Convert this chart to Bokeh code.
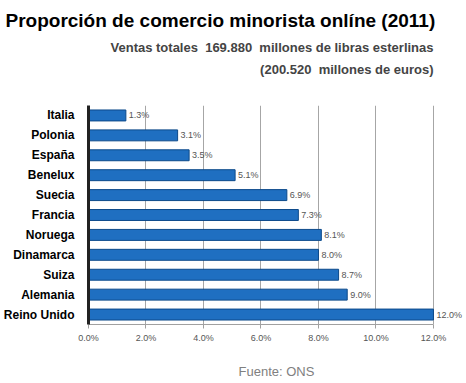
from bokeh.plotting import figure
from bokeh.models import FactorRange, Range1d, Title, ColumnDataSource, FixedTicker, LabelSet, CustomJSTickFormatter
from bokeh.core.properties import value
from bokeh.embed import file_html
from bokeh.resources import INLINE

countries = ["Italia", "Polonia", "España", "Benelux", "Suecia", "Francia",
             "Noruega", "Dinamarca", "Suiza", "Alemania", "Reino Unido"]
shares = [1.3, 3.1, 3.5, 5.1, 6.9, 7.3, 8.1, 8.0, 8.7, 9.0, 12.0]
labels = ["1.3%", "3.1%", "3.5%", "5.1%", "6.9%", "7.3%", "8.1%", "8.0%", "8.7%", "9.0%", "12.0%"]
x_ticks = [0, 2, 4, 6, 8, 10, 12]

src = ColumnDataSource(dict(c=countries, v=shares, l=labels))

p = figure(frame_width=376, frame_height=219, output_backend="svg", toolbar_location=None,
           y_range=FactorRange(factors=list(reversed(countries)), range_padding=0),
           x_range=Range1d(0, 13.08),
           min_border_left=80, min_border_right=0, min_border_top=0, min_border_bottom=0)

p.title.text = "Proporción de comercio minorista onlíne (2011)"
p.title.text_font = "Liberation Sans"
p.title.text_font_size = "19px"
p.title.text_font_style = "bold"
p.title.text_color = "#000000"
p.title.align = "left"
p.title.offset = -83
p.title.standoff = 14

# spacer closest to the frame
p.add_layout(Title(text=" ", text_font_size="1px", standoff=21), "above")
p.add_layout(Title(text="(200.520\u00a0 millones de euros)", align="right", text_font="Liberation Sans",
                   text_font_size="13px", text_font_style="bold", offset=31, standoff=9), "above")
p.add_layout(Title(text="Ventas totales\u00a0 169.880\u00a0 millones de libras esterlinas", align="right",
                   text_font="Liberation Sans", text_font_size="13px", text_font_style="bold",
                   offset=31, standoff=1), "above")

p.add_layout(Title(text=" ", text_font_size="1px", standoff=12), "below")
p.add_layout(Title(text="Fuente: ONS", align="center", text_font="Liberation Sans",
                   text_font_size="13px", text_font_style="normal", text_color="#808080",
                   standoff=2, offset=-13), "below")

p.hbar(y="c", right="v", left=0, height=0.55, source=src,
       fill_color="#1f6fc1", line_color="#0d4a8a", line_width=1)

p.add_layout(LabelSet(x="v", y="c", text="l", source=src, x_offset=3, y_offset=0,
                      text_baseline="middle", text_font=value("Liberation Sans"),
                      text_font_size=value("9px"), text_color="#555555"))

p.xaxis.ticker = FixedTicker(ticks=x_ticks)
p.xaxis.bounds = (0, 12)
p.xaxis.formatter = CustomJSTickFormatter(code="return tick.toFixed(1) + '%';")
p.xaxis.major_label_text_font = "Liberation Sans"
p.xaxis.major_label_text_font_size = "9px"
p.xaxis.major_label_text_color = "#555555"
p.xaxis.axis_line_color = "#a0a0a0"
p.xaxis.major_tick_line_color = "#a0a0a0"
p.xaxis.major_tick_out = 4
p.xaxis.major_tick_in = 0
p.xaxis.minor_tick_line_color = None
p.xaxis.major_label_standoff = 4

p.yaxis.major_label_text_font = "Liberation Sans"
p.yaxis.major_label_text_font_size = "12px"
p.yaxis.major_label_text_font_style = "bold"
p.yaxis.major_label_text_color = "#000000"
p.yaxis.axis_line_color = "#222222"
p.yaxis.axis_line_width = 3
p.yaxis.major_tick_line_color = None
p.yaxis.major_label_standoff = 8

p.xgrid.ticker = FixedTicker(ticks=x_ticks)
p.xgrid.bounds = (0, 12)
p.xgrid.grid_line_color = "#a6a6a6"
p.ygrid.grid_line_color = None
p.outline_line_color = None

open("out.html", "w").write(file_html(p, INLINE))
